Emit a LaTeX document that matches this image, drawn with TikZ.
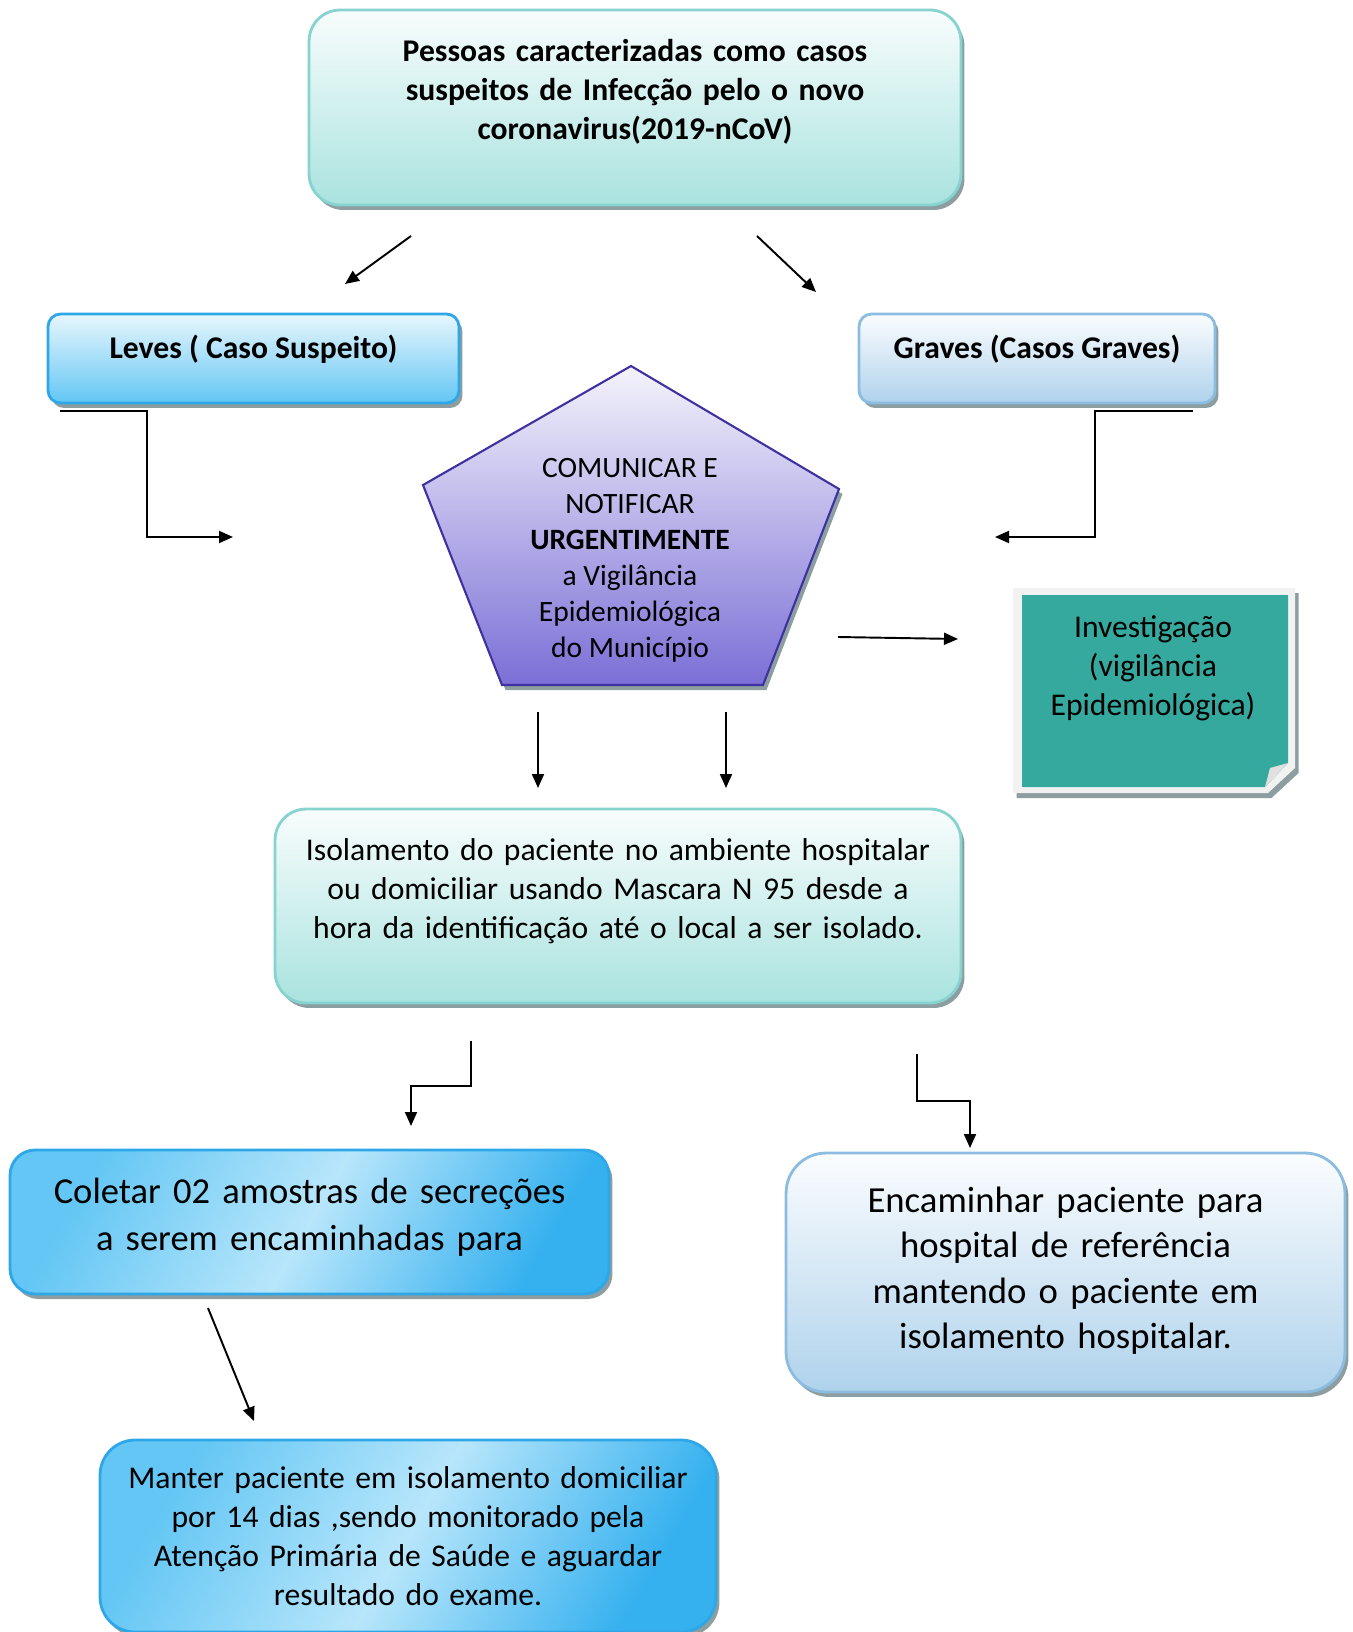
\documentclass[tikz,border=0pt]{standalone}
\usepackage{fontspec}
\setmainfont{Carlito}
\usetikzlibrary{arrows.meta,shadows}

\definecolor{tealborda}{HTML}{86D3CF}
\definecolor{tealfundo}{HTML}{A9E3DF}
\definecolor{azulborda}{HTML}{2EA7E8}
\definecolor{azulfundo}{HTML}{63C6F4}
\definecolor{azulforte}{HTML}{36B1EF}
\definecolor{azulclaro}{HTML}{B8E6FB}
\definecolor{cinzaborda}{HTML}{8CBDE0}
\definecolor{cinzafundo}{HTML}{AFD2EC}
\definecolor{roxoborda}{HTML}{3E32A0}
\definecolor{roxofundo}{HTML}{7B6FD6}
\definecolor{verdenota}{HTML}{36A99E}
\definecolor{sombra}{HTML}{8C9EA0}

\begin{document}
\begin{tikzpicture}[
		x=0.02cm, y=-0.02cm,
		sombreado/.style={drop shadow={shadow xshift=0.07cm, shadow yshift=-0.1cm, fill=sombra, opacity=1}},
		caixa/.style={rectangle, draw, line width=1.6pt, align=center, sombreado},
		caixateal/.style={caixa, draw=tealborda, top color=tealfundo!8, bottom color=tealfundo, rounded corners=0.62cm},
		caixaazul/.style={caixa, draw=azulborda, top color=azulfundo!15, bottom color=azulfundo, rounded corners=0.25cm},
		caixacinza/.style={caixa, draw=cinzaborda, top color=cinzafundo!5, bottom color=cinzafundo},
		caixaviva/.style={caixa, draw=azulborda, left color=azulfundo, right color=azulforte, middle color=azulclaro, shading angle=60},
		seta/.style={-{Triangle[length=0.28cm,width=0.24cm]}, line width=1.1pt}
	]
	\useasboundingbox (0,0) rectangle (1352,1632);

	% caixas principais
	\node[caixateal, minimum width=13.04cm, minimum height=3.9cm, text width=12cm, text depth=2.28cm,
		font=\fontsize{18}{22.2}\selectfont\bfseries] (topo) at (635,107.5)
		{Pessoas caracterizadas como casos\\ suspeitos de Infecção pelo o novo\\ coronavirus(2019-nCoV)};
	\node[caixaazul, minimum width=8.22cm, minimum height=1.78cm, text depth=0.46cm,
		font=\fontsize{18}{22.2}\selectfont\bfseries] (leves) at (253.5,358.5) {Leves ( Caso Suspeito)};
	\node[caixacinza, rounded corners=0.25cm, minimum width=7.12cm, minimum height=1.78cm, text depth=0.46cm,
		font=\fontsize{18}{22.2}\selectfont\bfseries] (graves) at (1037,358.5) {Graves (Casos Graves)};

	% pentagono
	\path[draw=roxoborda, line width=1.2pt, top color=roxofundo!8, bottom color=roxofundo, sombreado]
		(631,366) -- (839,489) -- (763,685) -- (502,685) -- (423,485) -- cycle;
	\node[align=center, font=\fontsize{16.8}{20.5}\selectfont] (comunicar) at (630,560)
		{COMUNICAR E\\ NOTIFICAR\\ \textbf{URGENTIMENTE}\\ a Vigilância\\ Epidemiológica\\ do Município};

	% nota da investigacao
	\path[fill=black!5, sombreado] (1013,588) -- (1295,588) -- (1295,768) -- (1268,793) -- (1013,793) -- cycle;
	\fill[verdenota] (1022,595) -- (1288,595) -- (1288,763) -- (1265,787) -- (1022,787) -- cycle;
	\fill[black!12] (1288,763) -- (1265,787) -- (1270,768) -- cycle;
	\node[align=center, font=\fontsize{18}{22.2}\selectfont] (invest) at (1153,668)
		{Investigação\\ (vigilância\\ Epidemiológica)};

	\node[caixateal, minimum width=13.72cm, minimum height=3.88cm, text width=13cm, text depth=2.25cm,
		font=\fontsize{18}{22.2}\selectfont] (isolamento) at (618,906)
		{Isolamento do paciente no ambiente hospitalar\\ ou domiciliar usando Mascara N 95 desde a\\ hora da identificação até o local a ser isolado.};
	\node[caixaviva, rounded corners=0.5cm, minimum width=11.98cm, minimum height=2.88cm, text width=11.5cm, text depth=1.23cm,
		font=\fontsize{20.8}{26.7}\selectfont] (coletar) at (309.5,1222)
		{Coletar 02 amostras de secreções\\ a serem encaminhadas para};
	\node[caixacinza, rounded corners=0.8cm, minimum width=11.18cm, minimum height=4.78cm, text width=10.5cm, text depth=2.92cm,
		font=\fontsize{20.9}{25.9}\selectfont] (encaminhar) at (1065.5,1272.5)
		{Encaminhar paciente para\\ hospital de referência\\ mantendo o paciente em\\ isolamento hospitalar.};
	\node[caixaviva, rounded corners=0.7cm, minimum width=12.32cm, minimum height=3.84cm, text width=11.8cm,
		font=\fontsize{18}{22.2}\selectfont] (manter) at (408,1536)
		{Manter paciente em isolamento domiciliar\\ por 14 dias ,sendo monitorado pela\\ Atenção Primária de Saúde e aguardar\\ resultado do exame.};

	% pontas das setas
	\coordinate (s1a) at (411,236);  \coordinate (s1b) at (345,284);
	\coordinate (s2a) at (757,236);  \coordinate (s2b) at (816,292);
	\coordinate (s3a) at (60,411);   \coordinate (s3b) at (233,537);
	\coordinate (s4a) at (1193,411); \coordinate (s4b) at (995,537);
	\coordinate (s5a) at (838,637);  \coordinate (s5b) at (958,639);
	\coordinate (s6a) at (538,712);  \coordinate (s6b) at (538,788);
	\coordinate (s7a) at (726,712);  \coordinate (s7b) at (726,788);
	\coordinate (s8a) at (471,1041); \coordinate (s8b) at (411,1126);
	\coordinate (s9a) at (917,1054); \coordinate (s9b) at (970,1148);
	\coordinate (s10a) at (208,1308); \coordinate (s10b) at (254,1421);

	\draw[seta] (s1a) -- (s1b);
	\draw[seta] (s2a) -- (s2b);
	\draw[seta] (s3a) -| (147,411) |- (s3b);
	\draw[seta] (s4a) -| (1095,411) |- (s4b);
	\draw[seta] (s5a) -- (s5b);
	\draw[seta] (s6a) -- (s6b);
	\draw[seta] (s7a) -- (s7b);
	\draw[seta] (s8a) -- (471,1086) -- (411,1086) -- (s8b);
	\draw[seta] (s9a) -- (917,1101) -- (970,1101) -- (s9b);
	\draw[seta] (s10a) -- (s10b);
\end{tikzpicture}
\end{document}
